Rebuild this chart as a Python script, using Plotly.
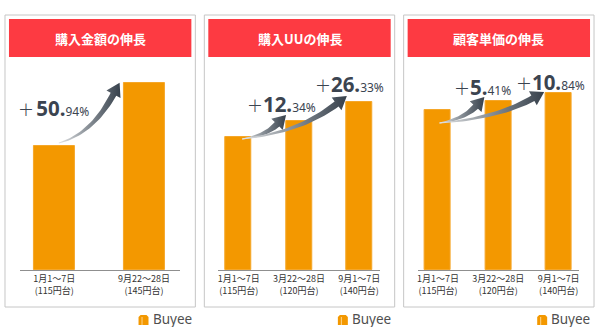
import numpy as np
import plotly.graph_objects as go

W, H = 600, 327

# ---------------- data ----------------
titles = ["購入金額の伸長", "購入UUの伸長", "顧客単価の伸長"]
amount_cats = ["1月1～7日<br>(115円台)", "9月22～28日<br>(145円台)"]
period_cats = ["1月1～7日<br>(115円台)", "3月22～28日<br>(120円台)", "9月1～7日<br>(140円台)"]
amount_index = [100, 150.94]
uu_index = [100, 112.34, 126.33]
price_index = [100, 105.41, 110.84]

# ---------------- style / layout constants ----------------
BAR = "#f39800"
BAR_EDGE = "#f5a72a"
RED = "#fd3a42"
BORDER = "#c6c6c6"
TXT = "#3b4450"
BASE_PY = 270          # pixel row of the baseline
TOP_PY = 60            # pixel row of the plot top

panels = [
    dict(title=titles[0], cats=amount_cats, vals=amount_index, ox=0,
         axis=(19, 180), first=53.5, step=90, barw=41, ppu=1.24,
         tail=(4.5, -3), tips=[(-4, 0)], labels=[(15, 108)], gap=" "),
    dict(title=titles[1], cats=period_cats, vals=uu_index, ox=200,
         axis=(218, 380), first=238.5, step=60.5, barw=26, ppu=1.33,
         tail=(3.5, 2), tips=[(0, -5.6), (0.5, -6)], labels=[(245, 104), (313, 84)], gap=""),
    dict(title=titles[2], cats=period_cats, vals=price_index, ox=400,
         axis=(418, 580), first=438.5, step=60.5, barw=26, ppu=1.60,
         tail=(1.5, 13), tips=[(-1, -4.4), (-1.5, -0.7)], labels=[(453, 87), (515, 82)], gap=""),
]


def px_x(px):
    return px / W


def px_y(py):
    return 1 - py / H


def growth_html(g, gap):
    s = f"{g:.2f}"
    ip, dp = s.split(".")
    return ("<span style='font-family:DejaVu Sans;font-size:19px;font-weight:200'>+</span>"
            f"<span style='font-size:9px'>{gap}</span>"
            f"<b>{ip}.</b>"
            f"<span style='font-size:12px;font-weight:normal'>{dp}%</span>")


def arrow_polygon(P0, T):
    P0 = np.array(P0, float)
    T = np.array(T, float)
    P1 = P0 + np.array([0.55 * (T[0] - P0[0]), 0.15 * (T[1] - P0[1])])
    d = T - P1
    d /= np.hypot(*d)
    L, HW = 13.0, 8.0
    P2 = T - L * d
    ts = np.linspace(0, 1, 30)
    upper, lower = [], []
    for t in ts:
        B = (1 - t) ** 2 * P0 + 2 * (1 - t) * t * P1 + t ** 2 * P2
        D = 2 * (1 - t) * (P1 - P0) + 2 * t * (P2 - P1)
        D /= np.hypot(*D)
        n = np.array([-D[1], D[0]])
        h = 0.4 + 2.8 * t
        upper.append(B + h * n)
        lower.append(B - h * n)
    nE = np.array([-d[1], d[0]])
    pts = upper + [P2 + HW * nE, T, P2 - HW * nE] + lower[::-1] + [upper[0]]
    return np.array(pts)


fig = go.Figure()
shapes = []
annotations = []
layout_axes = {}

for k, p in enumerate(panels):
    sfx = "" if k == 0 else str(k + 1)
    xa, ya = "x" + sfx, "y" + sfx
    al, ar = p["axis"]
    r0 = -(p["first"] - al) / p["step"]
    r1 = (ar - p["first"]) / p["step"]
    ytop = (BASE_PY - TOP_PY) / p["ppu"]
    n = len(p["vals"])

    layout_axes["xaxis" + sfx] = dict(
        domain=[px_x(al), px_x(ar)], range=[r0, r1], anchor=ya,
        tickvals=list(range(n)), ticktext=p["cats"], showline=True,
        linecolor="#8f8f8f", linewidth=1, ticks="", showgrid=False,
        zeroline=False, fixedrange=True,
        tickfont=dict(family="Noto Sans CJK JP", size=9, color="#333333"))
    layout_axes["yaxis" + sfx] = dict(
        domain=[px_y(BASE_PY), px_y(TOP_PY)], range=[0, ytop], anchor=xa,
        visible=False, fixedrange=True)

    fig.add_trace(go.Bar(
        x=list(range(n)), y=p["vals"], width=p["barw"] / p["step"],
        marker=dict(color=BAR, line=dict(color=BAR_EDGE, width=1)),
        xaxis=xa, yaxis=ya, hoverinfo="skip"))

    def to_data(pts):
        xs = r0 + (pts[:, 0] - al) / (ar - al) * (r1 - r0)
        ys = (BASE_PY - pts[:, 1]) / p["ppu"]
        return xs, ys

    # arrows from first bar to later bars
    v0 = p["vals"][0]
    tail = (p["first"] + p["tail"][0], BASE_PY - v0 * p["ppu"] + p["tail"][1])
    for j, (tip_off, lab) in enumerate(zip(p["tips"], p["labels"]), start=1):
        vj = p["vals"][j]
        left_edge = p["first"] + j * p["step"] - p["barw"] / 2
        tip = (left_edge + tip_off[0], BASE_PY - vj * p["ppu"] + tip_off[1])
        poly = arrow_polygon(tail, tip)
        xs, ys = to_data(poly)
        fig.add_trace(go.Scatter(
            x=xs, y=ys, mode="lines", fill="toself", line=dict(width=0),
            fillcolor="#4a525c",
            fillgradient=dict(type="horizontal",
                              colorscale=[[0, "#e2e4e6"], [0.45, "#8d949b"], [1, "#36404b"]]),
            xaxis=xa, yaxis=ya, hoverinfo="skip"))
        g = vj / v0 * 100 - 100
        annotations.append(dict(
            x=px_x(lab[0]), y=px_y(lab[1]), xref="paper", yref="paper",
            xanchor="left", yanchor="middle", showarrow=False,
            text=growth_html(g, p["gap"]),
            font=dict(color=TXT, family="Noto Sans", size=20.5)))

    ox = p["ox"]
    # panel border
    shapes.append(dict(type="rect", xref="paper", yref="paper",
                       x0=px_x(ox + 4), x1=px_x(ox + 195), y0=px_y(307), y1=px_y(15),
                       line=dict(color=BORDER, width=1), fillcolor="rgba(0,0,0,0)", layer="below"))
    # red header
    shapes.append(dict(type="rect", xref="paper", yref="paper",
                       x0=px_x(ox + 8), x1=px_x(ox + 191), y0=px_y(57), y1=px_y(19),
                       line=dict(width=0), fillcolor=RED, layer="below"))
    annotations.append(dict(
        x=px_x(ox + 99.5), y=px_y(38), xref="paper", yref="paper",
        xanchor="center", yanchor="middle", showarrow=False, text="<b>" + p["title"] + "</b>",
        font=dict(family="Noto Sans CJK JP", size=13, color="white")))
    # Buyee logo
    shapes.append(dict(type="path", xref="paper", yref="paper",
                       path=(f"M {px_x(ox+138)} {px_y(325)} L {px_x(ox+138)} {px_y(317)} "
                             f"L {px_x(ox+140)} {px_y(315)} L {px_x(ox+146)} {px_y(315)} "
                             f"L {px_x(ox+148)} {px_y(317)} L {px_x(ox+148)} {px_y(325)} Z"),
                       line=dict(width=0), fillcolor=BAR))
    shapes.append(dict(type="line", xref="paper", yref="paper",
                       x0=px_x(ox + 141.5), x1=px_x(ox + 141.5), y0=px_y(317), y1=px_y(325),
                       line=dict(color="#ffd48a", width=1)))
    annotations.append(dict(
        x=px_x(ox + 150), y=px_y(319), xref="paper", yref="paper",
        xanchor="left", yanchor="middle", showarrow=False, text="Buyee",
        font=dict(family="Noto Sans", size=13.5, color="#4f4f4f")))

fig.update_layout(
    width=W, height=H, margin=dict(l=0, r=0, t=0, b=0),
    paper_bgcolor="white", plot_bgcolor="rgba(0,0,0,0)",
    showlegend=False, shapes=shapes, annotations=annotations, bargap=0,
    **layout_axes)

fig.write_html("out.html")
